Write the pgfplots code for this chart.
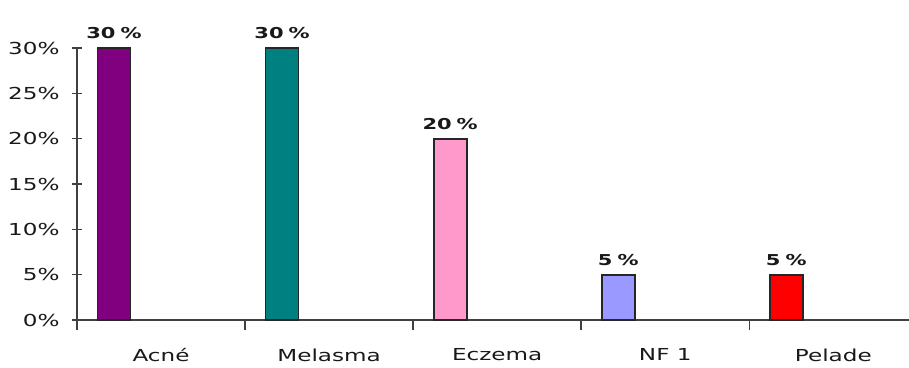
\documentclass[border=0pt]{standalone}
\usepackage{fontspec}
\setmainfont[FakeStretch=1.4]{DejaVu Sans}
\usepackage{pgfplots}
\pgfplotsset{compat=1.18}

\definecolor{cAcne}{HTML}{800080}
\definecolor{cMelasma}{HTML}{008080}
\definecolor{cEczema}{HTML}{FF99CC}
\definecolor{cNF}{HTML}{9999FF}
\definecolor{cPelade}{HTML}{FF0000}

\begin{document}
\begin{tikzpicture}[x=1pt,y=1pt]
\useasboundingbox (-77,-47) rectangle (832,320);
\begin{axis}[
  at={(0,0)}, anchor=south west,
  scale only axis, width=832pt, height=272pt,
  xmin=0, xmax=4.95, ymin=0, ymax=30,
  axis x line=bottom, axis y line=left,
  axis line style={-, line width=1.6pt, black!75},
  xtick={0,1,2,3,4}, xticklabels={},
  extra x ticks={0.5,1.5,2.5,3.5,4.5},
  extra x tick labels={Acné,Melasma,Eczema,NF 1,Pelade},
  extra x tick style={major tick length=0pt,
    xticklabel style={yshift=-25pt}},
  ytick={0,5,...,30},
  yticklabel={\pgfmathprintnumber{\tick}\%},
  yticklabel style={xshift=-9pt},
  /pgf/number format/assume math mode=true,
  tick align=center, major tick length=10pt,
  tick style={line width=1.6pt, black!75},
  ticklabel style={font=\fontsize{16.5}{19}\selectfont, black!90},
  ybar, bar width=0.196, bar shift=0pt,
  bars/.style={draw=black!85, line width=1.8pt, fill=#1},
  nodes near coords={\textbf{\pgfmathprintnumber{\pgfplotspointmeta}\,\,\%}},
  every node near coord/.append style={font=\fontsize{15}{18}\selectfont, black!90, yshift=5pt},
  clip=false,
]
\addplot[bars=cAcne] coordinates {(0.22,30)};
\addplot[bars=cMelasma] coordinates {(1.22,30)};
\addplot[bars=cEczema] coordinates {(2.22,20)};
\addplot[bars=cNF] coordinates {(3.22,5)};
\addplot[bars=cPelade] coordinates {(4.22,5)};
\end{axis}
\end{tikzpicture}
\end{document}
